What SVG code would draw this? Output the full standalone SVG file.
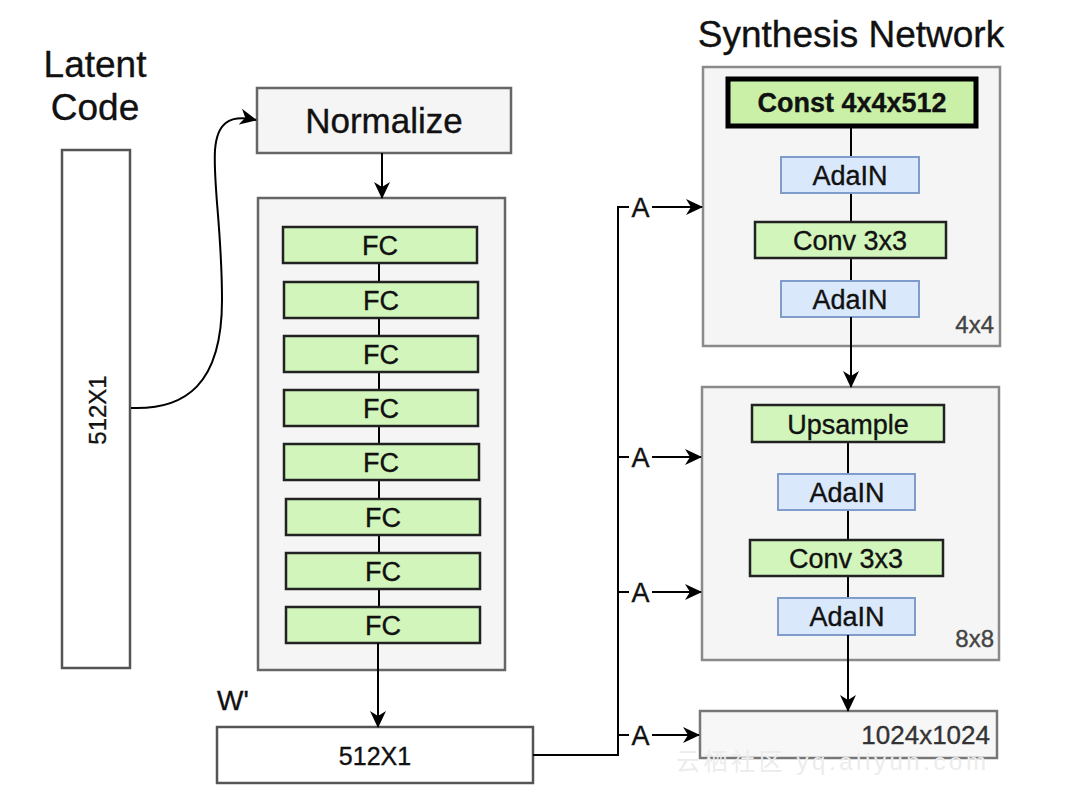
<svg xmlns="http://www.w3.org/2000/svg" width="1074" height="796" viewBox="0 0 1074 796">
<defs>
<marker id="arr" markerUnits="userSpaceOnUse" markerWidth="18" markerHeight="16" refX="16" refY="8" orient="auto">
<path d="M0,0 L17,8 L0,16 L5,8 z" fill="#000"/>
</marker>
<style>
text{font-family:"Liberation Sans",Arial,sans-serif;fill:#111;stroke:#111;stroke-width:0.35;}
.c{text-anchor:middle;}
.title{font-size:37px;}
.lbl{font-size:27px;}
.outer{fill:#f5f5f5;stroke:#666;stroke-width:2.5;}
.outer2{fill:#f5f5f5;stroke:#8a8a8a;stroke-width:2.5;}
.green{fill:#d2f5bc;stroke:#222;stroke-width:2.5;}
.blue{fill:#dae8fc;stroke:#7f9ccb;stroke-width:2;}
.white{fill:#fff;stroke:#555;stroke-width:2.5;}
.ln{fill:none;stroke:#000;stroke-width:2;}
.lnh{fill:none;stroke:#000;stroke-width:2;marker-end:url(#arr);}
.dim{font-size:24px;fill:#444;stroke:#444;text-anchor:end;}
</style>
</defs>
<rect width="1074" height="796" fill="#fff"/>

<g id="latent-title">
<text class="title c" x="95" y="77">Latent</text>
<text class="title c" x="95" y="120">Code</text>
</g>
<g id="latent-code">
<rect class="white" x="62" y="150" width="68" height="518"/>
<text class="c" font-size="24" transform="translate(106,410) rotate(-90)">512X1</text>
</g>

<g id="normalize">
<rect class="outer" x="257" y="88" width="254" height="65"/>
<text class="c" font-size="35" x="384" y="133">Normalize</text>
</g>

<g id="mapping-network">
<rect class="outer" x="258" y="198" width="247" height="472"/>
</g>

<g id="mapping-inner-links">
<line class="ln" x1="379" y1="263" x2="379" y2="607"/>
</g>
<g id="fc1"><rect class="green" x="283" y="227" width="194" height="36"/><text class="lbl c" x="380" y="255">FC</text></g>
<g id="fc2"><rect class="green" x="284" y="282" width="194" height="36"/><text class="lbl c" x="381" y="310">FC</text></g>
<g id="fc3"><rect class="green" x="284" y="336" width="194" height="36"/><text class="lbl c" x="381" y="364">FC</text></g>
<g id="fc4"><rect class="green" x="284" y="390" width="194" height="36"/><text class="lbl c" x="381" y="418">FC</text></g>
<g id="fc5"><rect class="green" x="284" y="444" width="195" height="36"/><text class="lbl c" x="381" y="472">FC</text></g>
<g id="fc6"><rect class="green" x="286" y="499" width="194" height="36"/><text class="lbl c" x="383" y="527">FC</text></g>
<g id="fc7"><rect class="green" x="286" y="553" width="194" height="36"/><text class="lbl c" x="383" y="581">FC</text></g>
<g id="fc8"><rect class="green" x="286" y="607" width="194" height="36"/><text class="lbl c" x="383" y="635">FC</text></g>

<g id="w-label"><text font-size="28" x="217" y="710">W'</text></g>
<g id="w-vector">
<rect class="white" x="217" y="727" width="316" height="56"/>
<text class="c" font-size="25" x="375" y="765">512X1</text>
</g>

<g id="synthesis-title"><text class="title c" x="851" y="47" font-size="38">Synthesis Network</text></g>

<g id="block-4x4">
<rect class="outer2" x="703" y="67" width="297" height="279"/>
<text class="dim" x="994" y="333">4x4</text>
</g>
<g id="block-4x4-links">
<line class="ln" x1="851" y1="126" x2="851" y2="281"/>
</g>
<g id="const"><rect x="728" y="79" width="248" height="47" fill="#c9f0a6" stroke="#000" stroke-width="5"/><text class="c" font-size="27" font-weight="bold" x="852" y="112">Const 4x4x512</text></g>
<g id="adain1"><rect class="blue" x="781" y="157" width="138" height="36"/><text class="lbl c" x="850" y="185">AdaIN</text></g>
<g id="conv1"><rect class="green" x="755" y="222" width="191" height="36"/><text class="lbl c" x="850" y="250">Conv 3x3</text></g>
<g id="adain2"><rect class="blue" x="781" y="281" width="138" height="36"/><text class="lbl c" x="850" y="309">AdaIN</text></g>

<g id="block-8x8">
<rect class="outer2" x="702" y="387" width="297" height="273"/>
<text class="dim" x="994" y="647">8x8</text>
</g>
<g id="block-8x8-links">
<line class="ln" x1="848" y1="442" x2="848" y2="598"/>
</g>
<g id="upsample"><rect class="green" x="752" y="405" width="192" height="37"/><text class="lbl c" x="848" y="434">Upsample</text></g>
<g id="adain3"><rect class="blue" x="778" y="474" width="137" height="36"/><text class="lbl c" x="847" y="502">AdaIN</text></g>
<g id="conv2"><rect class="green" x="750" y="540" width="193" height="36"/><text class="lbl c" x="846" y="568">Conv 3x3</text></g>
<g id="adain4"><rect class="blue" x="778" y="598" width="137" height="37"/><text class="lbl c" x="847" y="626">AdaIN</text></g>

<g id="output">
<rect fill="#f7f7f7" stroke="#777" stroke-width="2.5" x="700" y="711" width="297" height="47"/>
<text font-size="26" text-anchor="end" style="fill:#333;stroke:#333" x="990" y="744">1024x1024</text>
</g>
<g id="watermark"><text font-size="24" x="676" y="770" textLength="310" style="fill:#ececec;stroke:none;font-family:'Liberation Sans','Noto Sans CJK SC',sans-serif">云栖社区 yq.aliyun.com</text></g>

<g id="connectors">
<path class="lnh" d="M131,408 C185,410 222,385 222,300 C222,230 213,185 215,150 C217,124 228,114 256,120"/>
<line class="lnh" x1="382" y1="153" x2="382" y2="198"/>
<line class="lnh" x1="378" y1="643" x2="378" y2="727"/>
<line class="lnh" x1="851" y1="317" x2="851" y2="387"/>
<line class="lnh" x1="848" y1="635" x2="848" y2="711"/>
<polyline class="ln" points="533,755 618,755 618,207 629,207"/>
<line class="ln" x1="618" y1="457" x2="629" y2="457"/>
<line class="ln" x1="618" y1="592" x2="629" y2="592"/>
<line class="ln" x1="618" y1="735" x2="629" y2="735"/>
<line class="lnh" x1="652" y1="207" x2="702" y2="207"/>
<line class="lnh" x1="652" y1="457" x2="701" y2="457"/>
<line class="lnh" x1="652" y1="592" x2="701" y2="592"/>
<line class="lnh" x1="652" y1="735" x2="699" y2="735"/>
<text font-size="27" class="c" x="640.5" y="217">A</text>
<text font-size="27" class="c" x="640.5" y="467">A</text>
<text font-size="27" class="c" x="640.5" y="602">A</text>
<text font-size="27" class="c" x="640.5" y="745">A</text>
</g>
</svg>
